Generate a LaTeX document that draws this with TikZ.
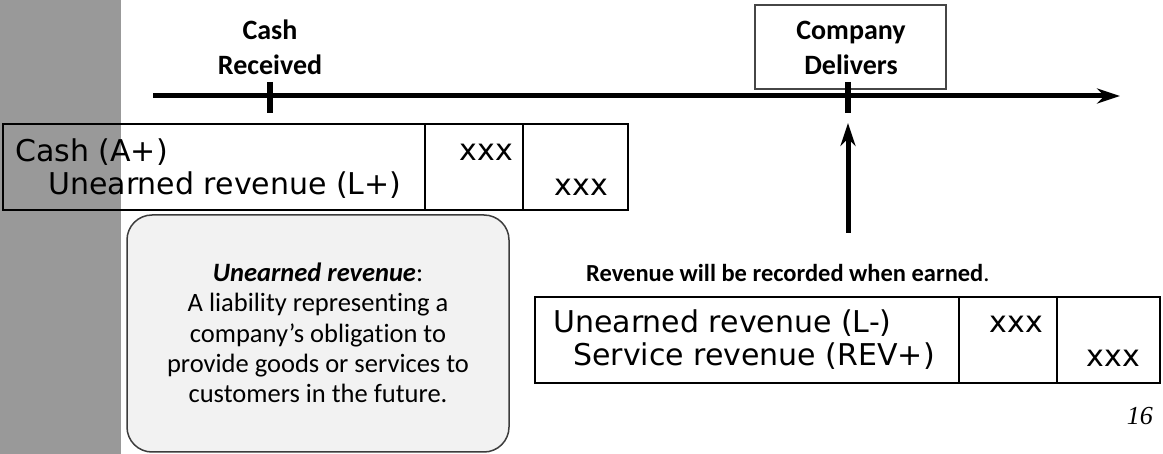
\documentclass[tikz,border=0pt]{standalone}
\usepackage{fontspec}
\setmainfont{Carlito}[Ligatures=NoCommon]
\newfontfamily\vfont{DejaVu Sans}
\newfontfamily\numfont{Liberation Serif}
\usetikzlibrary{arrows.meta}
\definecolor{bandgray}{RGB}{153,153,153}
\definecolor{boxfill}{RGB}{242,242,242}
\definecolor{boxline}{RGB}{60,60,60}
\definecolor{coline}{RGB}{70,70,70}
\begin{document}
\begin{tikzpicture}[x=1pt,y=-1pt,
  lbl/.style={font=\fontsize{28}{34}\selectfont\bfseries, anchor=base, inner sep=0pt},
  entry/.style={font=\vfont\fontsize{30}{36}\selectfont, anchor=base west, inner sep=0pt},
  amt/.style={font=\vfont\fontsize{30}{36}\selectfont, anchor=base east, inner sep=0pt},
  note/.style={font=\fontsize{26.5}{30}\selectfont, anchor=base, inner sep=0pt},
  tickmark/.style={line width=6pt},
  tbl/.style={draw, line width=2pt, minimum width=625pt, minimum height=86pt, inner sep=0pt},
  tbldiv/.style={line width=2pt},
  bigarrow/.style={line width=5pt, -{Stealth[length=23pt,width=15pt]}},
]
\useasboundingbox (0,0) rectangle (1163,454);
\fill[bandgray] (0,0) rectangle (121,454);

% Company box
\node (cobox) [draw=coline, line width=1.3pt, minimum width=191pt, minimum height=84pt, inner sep=0pt] at (850.5,47) {};
\node[lbl] (co1) at (851,40) {Company};
\node[lbl] (co2) at (851,75) {Delivers};

% Cash received label
\node[lbl] (cr1) at (270,40) {Cash};
\node[lbl] (cr2) at (270,75) {Received};

% timeline
\coordinate (tlA) at (153,96);
\coordinate (tlB) at (1120,96);
\draw[bigarrow] (tlA) -- (tlB);
\draw[tickmark] (270,82) -- (270,113);
\draw[tickmark] (848,82) -- (848,113);

% table 1
\node[tbl] (t1) at (315.5,167) {};
\draw[tbldiv] (425,124) -- (425,210);
\draw[tbldiv] (523,124) -- (523,210);
\node[entry] (t1a) at (15,162) {Cash (A+)};
\node[entry] (t1b) at (48,195) {Unearned revenue (L+)};
\node[amt] (t1c) at (513,161) {xxx};
\node[amt] (t1d) at (608,196) {xxx};

% definition box
\node (defbox) [draw=boxline, fill=boxfill, line width=1.5pt, rounded corners=25pt, minimum width=382pt, minimum height=237pt, inner sep=0pt] at (318,333.5) {};
\node[note] (d1) at (318,282) {\textbf{\textit{Unearned revenue}}:};
\node[note] (d2) at (318,312) {A liability representing a};
\node[note] (d3) at (318,343) {company’s obligation to};
\node[note] (d4) at (318,373) {provide goods or services to};
\node[note] (d5) at (318,403) {customers in the future.};

% vertical arrow
\coordinate (vaA) at (848,233);
\coordinate (vaB) at (848,123);
\draw[bigarrow] (vaA) -- (vaB);

\node[lbl, anchor=base west, font=\fontsize{24.5}{30}\selectfont\bfseries] (rev) at (586,282) {Revenue will be recorded when earned\textmd{.}};

% table 2
\node[tbl] (t2) at (847.5,340) {};
\draw[tbldiv] (959,297) -- (959,383);
\draw[tbldiv] (1057,297) -- (1057,383);
\node[entry] (t2a) at (553,333) {Unearned revenue (L-)};
\node[entry] (t2b) at (573,366) {Service revenue (REV+)};
\node[amt] (t2c) at (1043,333) {xxx};
\node[amt] (t2d) at (1140,367) {xxx};

\node[anchor=base east, inner sep=0pt, font=\numfont\itshape\fontsize{26}{30}\selectfont] (pg) at (1153,425) {16};
\end{tikzpicture}
\end{document}
